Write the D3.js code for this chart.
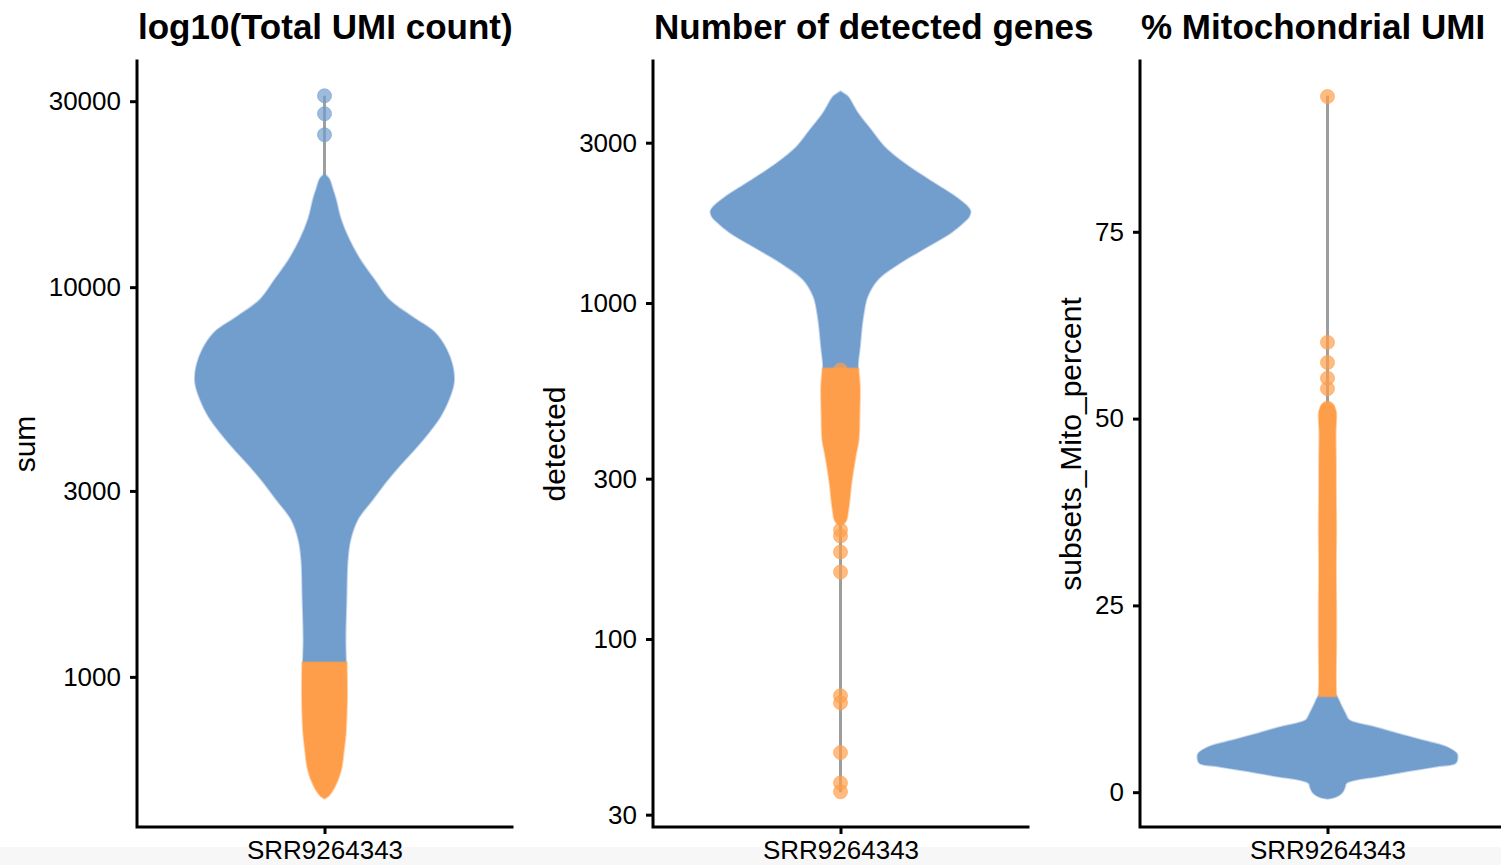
<!DOCTYPE html>
<html>
<head>
<meta charset="utf-8">
<script src="https://cdn.jsdelivr.net/npm/d3@7"></script>
<style>
  body { margin: 0; background: #fff; }
  text { font-family: "Liberation Sans", Arial, Helvetica, sans-serif; }
</style>
</head>
<body>
<svg id="chart"></svg>
<script>
// Chart size
const width = 1501;
const height = 865;

// Sample name and labels
const sample = "SRR9264343";
const panelTitles = ["log10(Total UMI count)", "Number of detected genes", "% Mitochondrial UMI"];
const yTitles = ["sum", "detected", "subsets_Mito_percent"];

// Total UMI count ("sum"), log scale
// swarm outlines: [value, half width of the swarm in x units]
const sumExtent = [506, 30970];
const sumTicks = [1000, 3000, 10000, 30000];
const sumKept = [
    [19500, 0], [18950, 0.015], [17860, 0.026], [16840, 0.036], [14950, 0.052], [13290, 0.078],
    [11800, 0.113], [10490, 0.158], [9315, 0.205], [8420, 0.278], [7660, 0.352],
    [6930, 0.390], [6265, 0.410], [5700, 0.414], [5155, 0.398], [4660, 0.371],
    [4240, 0.334], [3833, 0.288], [3465, 0.238], [3153, 0.195], [2851, 0.154],
    [2533, 0.106], [2250, 0.083], [2000, 0.074], [1578, 0.070], [1245, 0.067], [1080, 0.069]
];
const sumDropped = [
    [1090, 0.071], [980, 0.072], [873, 0.072], [718, 0.068], [649, 0.062], [587, 0.055],
    [550, 0.045], [525, 0.034], [505, 0.022], [494, 0.012], [487, 0]
];
const sumKeptPts = [30970, 27860, 24600];
const sumDroppedPts = [];

// Number of detected genes, log scale
const detExtent = [35.0, 4137];
const detTicks = [30, 100, 300, 1000, 3000];
const detKept = [
    [4262, 0], [4180, 0.014], [4110, 0.024], [3670, 0.056], [3273, 0.098], [2920, 0.140],
    [2605, 0.204], [2323, 0.284], [2072, 0.368], [1930, 0.408], [1871, 0.416], [1800, 0.410], [1766, 0.402],
    [1631, 0.358], [1471, 0.278], [1313, 0.189], [1171, 0.118], [1044, 0.086],
    [932, 0.074], [831, 0.067], [741, 0.062], [661, 0.056], [632, 0.056]
];
const detDropped = [
    [640, 0.057], [600, 0.060], [562, 0.062], [471, 0.061], [391, 0.058], [353, 0.049],
    [318, 0.041], [287, 0.034], [259, 0.029], [242, 0.025], [226, 0.019], [220, 0.010], [217, 0]
];
const detKeptPts = [];
const detDroppedPts = [632, 211, 202.5, 181.5, 158.2, 67.8, 64.6, 45.9, 37.3, 35.1];

// Mitochondrial percent, linear scale
const mitoExtent = [0, 93.2];
const mitoTicks = [0, 25, 50, 75];
const mitoKept = [
    [13.6, 0], [13.2, 0.022], [12.8, 0.030], [11.5, 0.045], [10.6, 0.056], [9.7, 0.068], [9.2, 0.100],
    [8.8, 0.144], [7.9, 0.220], [7.0, 0.300], [6.1, 0.378], [5.2, 0.413], [4.8, 0.416],
    [3.9, 0.410], [3.45, 0.349], [3.0, 0.285], [2.57, 0.224], [2.1, 0.160],
    [1.6, 0.085], [1.2, 0.060], [0.6, 0.055], [0, 0.048], [-0.4, 0.037], [-0.7, 0.022], [-0.87, 0]
];
const mitoDropped = [
    [52.2, 0], [51.8, 0.018], [51.0, 0.027], [48, 0.026], [44, 0.027], [40.5, 0.027], [35, 0.028],
    [30, 0.027], [25, 0.028], [20, 0.028], [15, 0.027], [12.8, 0.028]
];
const mitoKeptPts = [];
const mitoDroppedPts = [93.1, 60.2, 57.5, 55.4, 54.0, 51.4, 49.3, 47.6, 45.5, 43.2, 41.5];

// Colours
const keepColor = "#729ECE";
const dropColor = "#FF9E4A";
const lineColor = "#9e9e9e";

const panels = [
    { title: panelTitles[0], yTitle: yTitles[0], log: true, extent: sumExtent, ticks: sumTicks,
      kept: sumKept, dropped: sumDropped, keptPts: sumKeptPts, droppedPts: sumDroppedPts },
    { title: panelTitles[1], yTitle: yTitles[1], log: true, extent: detExtent, ticks: detTicks,
      kept: detKept, dropped: detDropped, keptPts: detKeptPts, droppedPts: detDroppedPts },
    { title: panelTitles[2], yTitle: yTitles[2], log: false, extent: mitoExtent, ticks: mitoTicks,
      kept: mitoKept, dropped: mitoDropped, keptPts: mitoKeptPts, droppedPts: mitoDroppedPts }
];

// Panel layout
const panelLeft = [137, 653, 1140];
const panelWidth = 375;
const panelTop = 61;
const panelBottom = 827;

const svg = d3.select("#chart")
    .attr("width", width)
    .attr("height", height);

svg.append("rect")
    .attr("width", width)
    .attr("height", height)
    .attr("fill", "#fff");

// faint grey strip along the bottom edge of the picture
svg.append("rect")
    .attr("y", 847)
    .attr("width", width)
    .attr("height", height - 847)
    .attr("fill", "#f7f7f7");

function drawPanel(p, i) {
    const left = panelLeft[i];
    const right = left + panelWidth;
    const g = svg.append("g");

    // y scale with 5% expansion (in transformed space for log)
    let yScale;
    if (p.log) {
        const lo = Math.log10(p.extent[0]), hi = Math.log10(p.extent[1]);
        const pad = (hi - lo) * 0.05;
        yScale = d3.scaleLog()
            .domain([Math.pow(10, lo - pad), Math.pow(10, hi + pad)])
            .range([panelBottom, panelTop]);
    } else {
        const pad = (p.extent[1] - p.extent[0]) * 0.05;
        yScale = d3.scaleLinear()
            .domain([p.extent[0] - pad, p.extent[1] + pad])
            .range([panelBottom, panelTop]);
    }

    // x: one category at 1, offsets in the same units
    const xScale = d3.scaleLinear().domain([0.4, 1.6]).range([left, right]);
    const xCat = d3.scalePoint().domain([sample]).range([left, right]).padding(0.5);
    const cx = xScale(1);

    // grey range line
    g.append("line")
        .attr("x1", cx).attr("x2", cx)
        .attr("y1", yScale(p.extent[0]))
        .attr("y2", yScale(p.extent[1]))
        .attr("stroke", lineColor)
        .attr("stroke-width", 3);

    const area = d3.area()
        .curve(d3.curveCatmullRom.alpha(0.5))
        .y(d => yScale(d[0]))
        .x0(d => xScale(1 - d[1]))
        .x1(d => xScale(1 + d[1]));

    g.append("path")
        .attr("d", area(p.kept))
        .attr("fill", keepColor)
        .attr("stroke", keepColor)
        .attr("stroke-width", 2)
        .attr("stroke-opacity", 0.45);

    g.append("path")
        .attr("d", area(p.dropped))
        .attr("fill", dropColor)
        .attr("stroke", dropColor)
        .attr("stroke-width", 2)
        .attr("stroke-opacity", 0.45);

    // single points
    g.selectAll("circle.kept")
        .data(p.keptPts)
        .enter().append("circle")
        .attr("class", "kept")
        .attr("cx", cx)
        .attr("cy", d => yScale(d))
        .attr("r", 7)
        .attr("fill", keepColor)
        .attr("fill-opacity", 0.7)
        .attr("stroke", keepColor)
        .attr("stroke-opacity", 0.6);

    g.selectAll("circle.dropped")
        .data(p.droppedPts)
        .enter().append("circle")
        .attr("class", "dropped")
        .attr("cx", cx)
        .attr("cy", d => yScale(d))
        .attr("r", 7)
        .attr("fill", dropColor)
        .attr("fill-opacity", 0.7)
        .attr("stroke", dropColor)
        .attr("stroke-opacity", 0.6);

    // axes
    const yAxis = d3.axisLeft(yScale)
        .tickValues(p.ticks)
        .tickFormat(d3.format("d"))
        .tickSize(7)
        .tickSizeOuter(0)
        .tickPadding(9);

    const gY = g.append("g")
        .attr("transform", `translate(${left},0)`)
        .call(yAxis);
    gY.select(".domain").remove();
    gY.selectAll(".tick line").attr("stroke", "#000").attr("stroke-width", 3);
    gY.selectAll(".tick text").attr("font-size", 26).attr("fill", "#000")
        .style("font-family", "'Liberation Sans', Arial, sans-serif");

    const xAxis = d3.axisBottom(xCat)
        .tickSize(7)
        .tickSizeOuter(0)
        .tickPadding(7);

    const gX = g.append("g")
        .attr("transform", `translate(0,${panelBottom})`)
        .call(xAxis);
    gX.select(".domain").remove();
    gX.selectAll(".tick line").attr("stroke", "#000").attr("stroke-width", 3);
    gX.selectAll(".tick text").attr("font-size", 26).attr("fill", "#000")
        .style("font-family", "'Liberation Sans', Arial, sans-serif");

    // axis lines
    g.append("path")
        .attr("d", `M${left},${panelTop}V${panelBottom}H${right}`)
        .attr("fill", "none")
        .attr("stroke", "#000")
        .attr("stroke-width", 3)
        .attr("stroke-linecap", "square");

    // y axis title, placed next to the tick labels
    let labelLeft = left;
    gY.selectAll(".tick text").each(function () {
        labelLeft = Math.min(labelLeft, this.getBBox().x + left);
    });
    g.append("text")
        .attr("transform", `translate(${labelLeft - 14},${(panelTop + panelBottom) / 2}) rotate(-90)`)
        .attr("text-anchor", "middle")
        .attr("font-size", 30)
        .text(p.yTitle);

    // panel title
    g.append("text")
        .attr("x", left + 1)
        .attr("y", 39)
        .attr("font-size", 35)
        .attr("font-weight", "bold")
        .text(p.title);
}

panels.forEach(drawPanel);
</script>
</body>
</html>
